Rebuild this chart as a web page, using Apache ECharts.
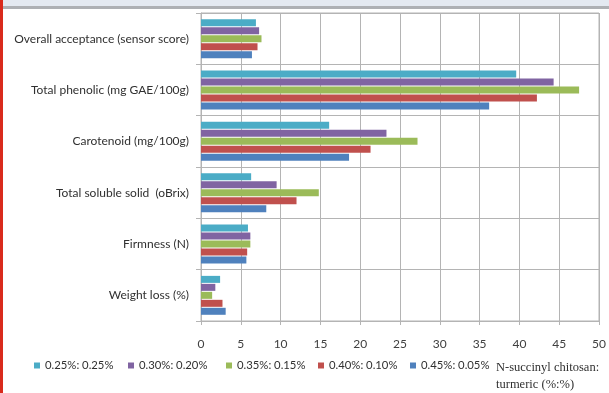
<!DOCTYPE html>
<html>
<head>
<meta charset="utf-8">
<script src="https://cdn.jsdelivr.net/npm/echarts@6/dist/echarts.min.js"></script>
<style>
  html, body { margin: 0; padding: 0; background: #fff; }
  #chart { width: 609px; height: 393px; }
</style>
</head>
<body>
<div id="chart"></div>
<script>
const categories = [
  'Overall acceptance (sensor score)',
  'Total phenolic (mg GAE/100g)',
  'Carotenoid (mg/100g)',
  'Total soluble solid  (oBrix)',
  'Firmness (N)',
  'Weight loss (%)'
];
const seriesNames = ['0.25%: 0.25%', '0.30%: 0.20%', '0.35%: 0.15%', '0.40%: 0.10%', '0.45%: 0.05%'];
const s025_025 = [6.9, 39.6, 16.1, 6.3, 5.9, 2.4];
const s030_020 = [7.3, 44.3, 23.3, 9.5, 6.2, 1.8];
const s035_015 = [7.6, 47.5, 27.2, 14.8, 6.2, 1.4];
const s040_010 = [7.1, 42.2, 21.3, 12.0, 5.8, 2.7];
const s045_005 = [6.4, 36.2, 18.6, 8.2, 5.7, 3.1];
const xTicks = { min: 0, max: 50, interval: 5 };
const legendTitle = 'N-succinyl chitosan:\nturmeric (%:%)';

const allValues = [s025_025, s030_020, s035_015, s040_010, s045_005];
const colors = ['#4bacc6', '#8064a2', '#9bbb59', '#c0504d', '#4f81bd'];
const legendLefts = [34, 128, 226, 318, 410];

const chart = echarts.init(document.getElementById('chart'), null, { renderer: 'canvas' });
const font = 'Lato, "Open Sans", sans-serif';

const option = {
  backgroundColor: '#ffffff',
  animation: false,
  grid: {
    left: 201, right: 10, top: 13, bottom: 72,
    show: true, borderColor: '#b4b4b4', borderWidth: 1
  },
  xAxis: {
    type: 'value',
    min: xTicks.min, max: xTicks.max, interval: xTicks.interval,
    axisLine: { show: true, lineStyle: { color: '#b4b4b4' } },
    axisTick: { show: true, length: 4, lineStyle: { color: '#b4b4b4' } },
    splitLine: { show: true, lineStyle: { color: '#b4b4b4', width: 1 } },
    axisLabel: { color: '#404040', fontFamily: font, fontSize: 12, margin: 17 }
  },
  yAxis: {
    type: 'category',
    data: categories,
    inverse: true,
    axisLine: { show: true, lineStyle: { color: '#b4b4b4' } },
    axisTick: { show: true, length: 5, lineStyle: { color: '#b4b4b4' } },
    splitLine: { show: true, lineStyle: { color: '#b4b4b4', width: 1 } },
    axisLabel: { color: '#303030', fontFamily: font, fontSize: 12, margin: 12 }
  },
  legend: seriesNames.map((n, i) => ({
    data: [n],
    left: legendLefts[i],
    top: 360,
    itemWidth: 6,
    itemHeight: 6,
    itemGap: 5,
    padding: 0,
    icon: 'rect',
    textStyle: { color: '#303030', fontFamily: font, fontSize: 11.3 }
  })),
  graphic: [
    { type: 'rect', left: 0, top: 0, shape: { width: 3, height: 393 }, style: { fill: '#d92a1c' }, z: 100 },
    { type: 'rect', left: 3, top: 0, shape: { width: 606, height: 6 }, style: { fill: '#e4e9f1' }, z: 100 },
    { type: 'rect', left: 3, top: 6, shape: { width: 606, height: 3 }, style: { fill: '#aeb0b4' }, z: 100 },
    {
      type: 'text', left: 496, top: 359, z: 100,
      style: {
        text: legendTitle,
        fill: '#303030',
        font: '12.5px "Liberation Serif", "Times New Roman", serif',
        lineHeight: 17
      }
    }
  ],
  series: seriesNames.map((n, i) => ({
    name: n,
    type: 'bar',
    data: allValues[i],
    barWidth: 7,
    barGap: '14%',
    itemStyle: { color: colors[i] }
  }))
};
chart.setOption(option);
</script>
</body>
</html>
